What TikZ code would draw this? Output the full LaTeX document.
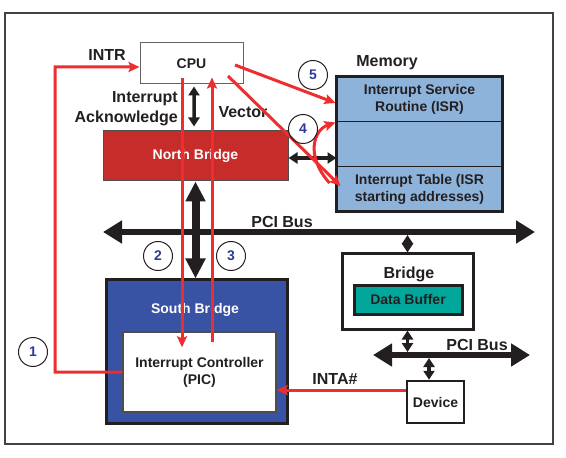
\documentclass[tikz,border=0pt]{standalone}
\usepackage{fontspec}
\setmainfont{Liberation Sans}
\usetikzlibrary{arrows.meta}
\definecolor{nbred}{HTML}{C62D2A}
\definecolor{sbblue}{HTML}{3953A4}
\definecolor{memblue}{HTML}{8DB3DB}
\definecolor{tealbuf}{HTML}{00A79A}
\definecolor{redline}{HTML}{EE2E2E}
\definecolor{numblue}{HTML}{2E3A98}
\definecolor{ink}{HTML}{231F20}
\tikzset{
  boxfont/.style={font=\fontsize{14bp}{17bp}\selectfont\bfseries},
  lbl/.style={font=\fontsize{16bp}{20bp}\selectfont\bfseries, text=ink, inner sep=0pt},
  box/.style={boxfont, text=ink, align=center, inner sep=0pt},
  numc/.style={circle, draw=ink, line width=1bp, minimum size=29bp, inner sep=0pt,
    font=\fontsize{14bp}{16bp}\selectfont\bfseries, text=numblue},
  redarrow/.style={draw=redline, line width=3bp, -{Stealth[length=11bp,width=10bp,inset=2bp]}},
  dblarrow/.style={draw=ink, line width=3.5bp, {Triangle[length=9bp,width=11bp]}-{Triangle[length=9bp,width=11bp]}},
  busarrow/.style={draw=ink, line width=6bp, {Triangle[length=19bp,width=22bp]}-{Triangle[length=19bp,width=22bp]}},
  bigarrow/.style={draw=ink, line width=8bp, {Triangle[length=20bp,width=19bp]}-{Triangle[length=20bp,width=19bp]}},
}
\begin{document}
\begin{tikzpicture}[x=1bp,y=-1bp]
\useasboundingbox (0,0) rectangle (566,458);
\draw[line width=1.5bp, draw=ink!85] (5,13) rectangle (553,444);

% boxes
\node[box, draw=ink!70, line width=1bp, fill=white, minimum width=103bp, minimum height=41bp] (cpu) at (191.5,63.5) {CPU};
\node[box, draw=ink!80, line width=1bp, fill=nbred, text=white, minimum width=185bp, minimum height=50bp] (nb) at (195.5,156) {North Bridge};

\node[box, draw=ink, line width=1bp, fill=memblue, minimum width=165bp, minimum height=45bp] (isr) at (419.5,99.5) {Interrupt Service\\Routine (ISR)};
\node[box, draw=ink, line width=1bp, fill=memblue, minimum width=165bp, minimum height=45bp] (mid) at (419.5,144.5) {};
\node[box, draw=ink, line width=1bp, fill=memblue, minimum width=165bp, minimum height=44bp] (tab) at (419.5,189) {Interrupt Table (ISR\\starting addresses)};
\draw[line width=2.5bp, draw=ink] (isr.north west) rectangle (tab.south east);
\node[lbl] (memlbl) at (387,63) {Memory};

\node[box, draw=ink, line width=3bp, fill=sbblue, minimum width=181bp, minimum height=143bp] (sb) at (196.5,351.5) {};
\node[box, text=white] (sblbl) at (195,310) {South Bridge};
\node[box, draw=ink!80, line width=1.5bp, fill=white, minimum width=153bp, minimum height=80bp] (pic) at (199.5,372) {Interrupt Controller\\(PIC)};

\node[box, draw=ink, line width=3bp, fill=white, minimum width=131bp, minimum height=75bp] (bridge) at (407.5,291.5) {};
\node[lbl] (brlbl) at (409,274) {Bridge};
\node[box, draw=ink, line width=3bp, fill=tealbuf, minimum width=108bp, minimum height=29bp] (buf) at (408,299.5) {Data Buffer};
\node[box, draw=ink, line width=2.5bp, fill=white, minimum width=57bp, minimum height=42bp] (dev) at (435.5,402) {Device};

% buses
\coordinate (bus1l) at (103,232);
\coordinate (bus1r) at (535,232);
\coordinate (bus2l) at (373,355);
\coordinate (bus2r) at (530,355);
\draw[busarrow] (bus1l) -- (bus1r);
\draw[busarrow] (bus2l) -- (bus2r);
\draw[dblarrow] (bridge.north) -- ([yshift=-3bp]bridge.north |- bus1l);
\draw[dblarrow] (bridge.south) -- ([yshift=3bp]bridge.south |- bus2l);
\draw[dblarrow] ([xshift=-6.5bp]dev.north) coordinate (dvt) -- ([yshift=-3bp]dvt |- bus2l);
\draw[bigarrow] (nb.south) -- (nb.south |- sb.north);
\draw[dblarrow] ([xshift=2.5bp,yshift=-2bp]cpu.south) -- ([xshift=-1.5bp,yshift=4bp]nb.north);
\draw[dblarrow] ([yshift=-2bp]nb.east) coordinate (nbm) -- (mid.west |- nbm);

% labels
\node[lbl] (intr) at (107,55) {INTR};
\node[lbl, align=right, anchor=east] (ack) at (178,109) {Interrupt\\Acknowledge};
\node[lbl] (vec) at (243,112) {Vector};
\node[lbl] (pci1) at (282,222) {PCI Bus};
\node[lbl] (pci2) at (477,345) {PCI Bus};
\node[lbl] (inta) at (335,379) {INTA\#};

% red arrows
\coordinate (intrc) at (55,67);
\draw[redarrow] (pic.west) -| (intrc) -- ([yshift=-3.5bp]cpu.west);
\draw[redarrow] ([shift={(-9.5,-6)}]cpu.south) -- ([shift={(-17.5,16)}]pic.north);
\draw[redarrow] ([shift={(12.5,11)}]pic.north) -- ([shift={(20.5,-7)}]cpu.south);
\draw[redarrow] ([shift={(43.5,1.5)}]cpu.center) -- ([shift={(-1,3.5)}]isr.west);
\draw[redarrow] ([shift={(36.5,12.5)}]cpu.center) -- ([shift={(4,-3)}]tab.west);
\draw[redarrow] ([shift={(-7,-6)}]tab.west) .. controls +(-25,-28) and +(-21,7) .. ([shift={(-1,1)}]mid.north west);
\draw[redarrow] ([yshift=12bp]dev.west) coordinate (ia) -- (pic.east |- ia);

% step numbers
\node[numc] (n1) at (33,352) {1};
\node[numc] (n2) at (158,256) {2};
\node[numc] (n3) at (231,256) {3};
\node[numc] (n4) at (303,129) {4};
\node[numc] (n5) at (313,75) {5};
\end{tikzpicture}
\end{document}
